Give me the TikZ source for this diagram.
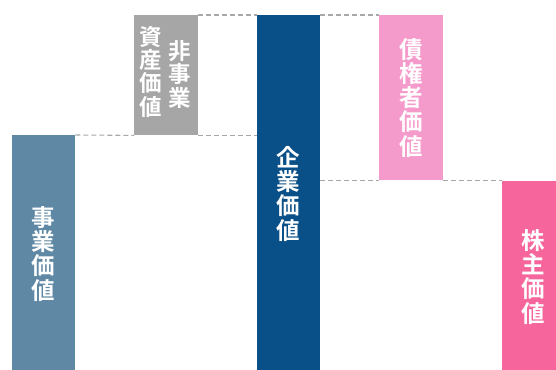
\documentclass[tikz,border=0pt]{standalone}
\usepackage{fontspec}
\newfontfamily\cjk{Noto Sans CJK JP}[BoldFont={Noto Sans CJK JP Bold}]
\definecolor{cbiz}{HTML}{5F88A4}
\definecolor{cnon}{HTML}{A6A6A6}
\definecolor{cent}{HTML}{0A5088}
\definecolor{cdebt}{HTML}{F59BCB}
\definecolor{ceq}{HTML}{F6669C}
\definecolor{cdash}{HTML}{A8A8A8}
\begin{document}
\begin{tikzpicture}[x=1pt,y=-1pt,
  bar/.style={draw=none,inner sep=0pt,anchor=north west,text=white,align=center,
    font=\cjk\bfseries\fontsize{23.5}{24.3}\selectfont},
  colt/.style={inner sep=0pt,text=white,align=center,
    font=\cjk\bfseries\fontsize{22.5}{23.4}\selectfont},
  dashline/.style={cdash,line width=1.1pt,dash pattern=on 5pt off 3pt}]
\useasboundingbox (0,0) rectangle (556,369);
\node[bar,fill=cbiz,minimum width=63pt,minimum height=237pt] (b1) at (12,135) {事\\業\\価\\値};
\node[bar,fill=cnon,minimum width=64pt,minimum height=120pt] (b2) at (134,15) {};
\node[bar,fill=cent,minimum width=63pt,minimum height=357pt] (b3) at (257,15) {企\\業\\価\\値};
\node[bar,fill=cdebt,minimum width=64pt,minimum height=165pt] (b4) at (379,15) {債\\権\\者\\価\\値};
\node[bar,fill=ceq,minimum width=63pt,minimum height=191pt] (b5) at (502,181) {株\\主\\価\\値};
\node[colt] (t2a) at ([xshift=-15pt,yshift=3.5pt]b2.center) {資\\産\\価\\値};
\node[colt] (t2b) at ([xshift=14pt,yshift=1pt]b2.center) {非\\事\\業};
% dashed guide lines
\draw[dashline] (b2.north east) -- (b3.north west);
\draw[dashline] (b3.north east) -- (b4.north west);
\draw[dashline] (b1.north east) -- (b2.south west);
\draw[dashline] (b2.south east) -- (b2.south east -| b3.west);
\draw[dashline] (b4.south west -| b3.east) -- (b4.south west);
\draw[dashline] (b4.south east) -- (b4.south east -| b5.west);
\end{tikzpicture}
\end{document}
